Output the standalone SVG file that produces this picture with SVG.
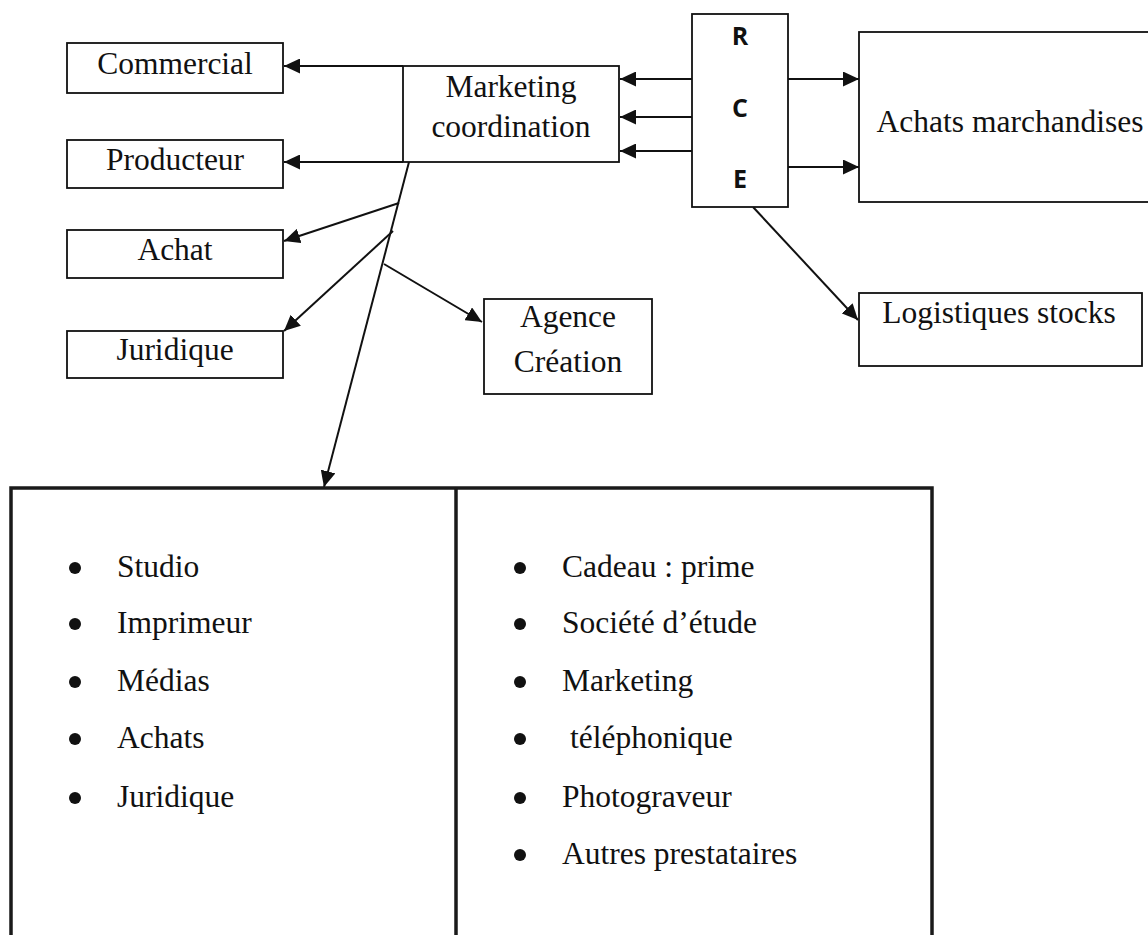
<svg xmlns="http://www.w3.org/2000/svg" width="1148" height="935" viewBox="0 0 1148 935">
<style>
.box{fill:#fff;stroke:#111;stroke-width:1.8}
.big{fill:none;stroke:#1a1a1a;stroke-width:3.5}
.t{font-family:"Liberation Serif","Times New Roman",serif;font-size:31.5px;fill:#111}
.c{text-anchor:middle}
.b{font-family:"Open Sans","Liberation Sans",sans-serif;font-weight:bold;font-size:25px;fill:#111;text-anchor:middle}
.ln{stroke:#111;stroke-width:2;fill:none}
.arr{marker-end:url(#ah)}
.dot{fill:#111}
</style>
<defs>
<marker id="ah" markerUnits="userSpaceOnUse" markerWidth="17" markerHeight="15" refX="16" refY="7.5" orient="auto">
<path d="M0,0 L16,7.5 L0,15 z" fill="#111"/>
</marker>
</defs>
<rect width="1148" height="935" fill="#fff"/>
<g id="connectors">
<line class="ln arr" x1="403" y1="66" x2="284" y2="66"/>
<line class="ln arr" x1="403" y1="162" x2="284" y2="162"/>
<line class="ln arr" x1="692" y1="79" x2="620" y2="79"/>
<line class="ln arr" x1="692" y1="117" x2="620" y2="117"/>
<line class="ln arr" x1="692" y1="151" x2="620" y2="151"/>
<line class="ln arr" x1="788" y1="79" x2="859" y2="79"/>
<line class="ln arr" x1="788" y1="167" x2="859" y2="167"/>
<line class="ln arr" x1="753" y1="207" x2="858" y2="320"/>
<line class="ln arr" x1="409" y1="162" x2="324" y2="487"/>
<line class="ln arr" x1="399" y1="203" x2="284" y2="241"/>
<line class="ln arr" x1="393" y1="231" x2="284" y2="331"/>
<line class="ln arr" x1="384" y1="264" x2="482" y2="322"/>
</g>
<g id="commercial">
<rect class="box" x="67" y="43" width="216" height="50"/>
<text class="t c" x="175" y="74">Commercial</text>
</g>
<g id="producteur">
<rect class="box" x="67" y="140" width="216" height="48"/>
<text class="t c" x="175" y="170">Producteur</text>
</g>
<g id="achat">
<rect class="box" x="67" y="230" width="216" height="48"/>
<text class="t c" x="175" y="260">Achat</text>
</g>
<g id="juridique">
<rect class="box" x="67" y="331" width="216" height="47"/>
<text class="t c" x="175" y="360">Juridique</text>
</g>
<g id="marketing">
<rect class="box" x="403" y="66" width="216" height="96"/>
<text class="t c" x="511" y="97">Marketing</text>
<text class="t c" x="511" y="137">coordination</text>
</g>
<g id="rce">
<rect class="box" x="692" y="14" width="96" height="193"/>
<text class="b" x="740" y="45">R</text>
<text class="b" x="740" y="117">C</text>
<text class="b" x="740" y="188">E</text>
</g>
<g id="achats-marchandises">
<rect class="box" x="859" y="32" width="300" height="170"/>
<text class="t c" x="1010" y="132">Achats marchandises</text>
</g>
<g id="logistiques">
<rect class="box" x="859" y="293" width="283" height="73"/>
<text class="t c" x="999" y="323">Logistiques stocks</text>
</g>
<g id="agence">
<rect class="box" x="484" y="299" width="168" height="95"/>
<text class="t c" x="568" y="327">Agence</text>
<text class="t c" x="568" y="372">Création</text>
</g>
<g id="prestataires">
<rect class="big" x="11" y="488" width="921" height="500"/>
<line class="big" x1="456" y1="488" x2="456" y2="940"/>
<g id="col-left">
<circle class="dot" cx="75" cy="568" r="6"/>
<circle class="dot" cx="75" cy="624" r="6"/>
<circle class="dot" cx="75" cy="682" r="6"/>
<circle class="dot" cx="75" cy="739" r="6"/>
<circle class="dot" cx="75" cy="798" r="6"/>
<text class="t" x="117" y="577">Studio</text>
<text class="t" x="117" y="633">Imprimeur</text>
<text class="t" x="117" y="691">Médias</text>
<text class="t" x="117" y="748">Achats</text>
<text class="t" x="117" y="807">Juridique</text>
</g>
<g id="col-right">
<circle class="dot" cx="520" cy="568" r="6"/>
<circle class="dot" cx="520" cy="624" r="6"/>
<circle class="dot" cx="520" cy="682" r="6"/>
<circle class="dot" cx="520" cy="739" r="6"/>
<circle class="dot" cx="520" cy="798" r="6"/>
<circle class="dot" cx="520" cy="855" r="6"/>
<text class="t" x="562" y="577">Cadeau : prime</text>
<text class="t" x="562" y="633">Société d’étude</text>
<text class="t" x="562" y="691">Marketing</text>
<text class="t" x="570" y="748">téléphonique</text>
<text class="t" x="562" y="807">Photograveur</text>
<text class="t" x="562" y="864">Autres prestataires</text>
</g>
</g>
</svg>
